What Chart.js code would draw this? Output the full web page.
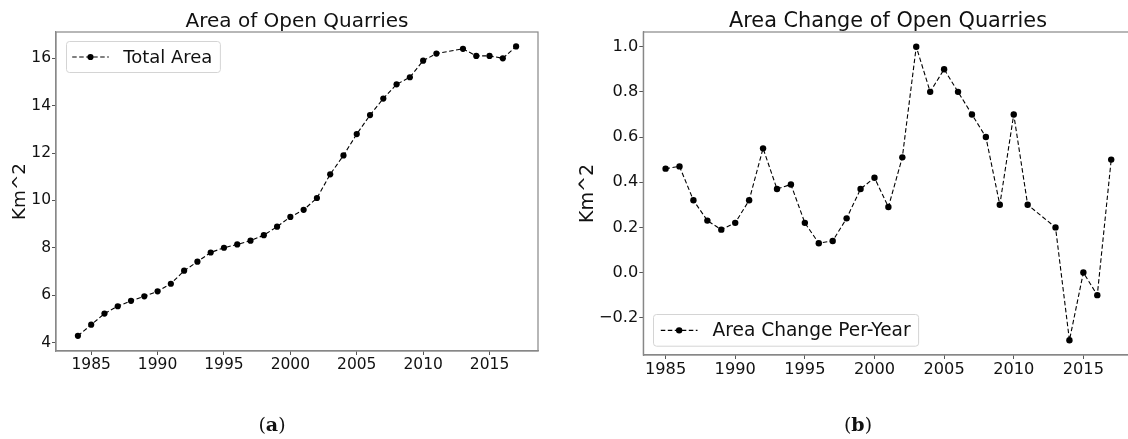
<!DOCTYPE html>
<html>
<head>
<meta charset="utf-8">
<script src="https://cdn.jsdelivr.net/npm/chart.js@4.4.1/dist/chart.umd.min.js"></script>
<style>
  html, body { margin: 0; padding: 0; background: #fff; }
  body { width: 1128px; height: 439px; position: relative; overflow: hidden; font-family: "DejaVu Sans", sans-serif; }
  .box { position: absolute; top: 0; height: 439px; }
  .title { position: absolute; color: #111; line-height: 1; white-space: nowrap; transform: translateX(-50%); }
  .sub { position: absolute; font-family: "DejaVu Serif", serif; font-size: 19px; line-height: 1; color: #111; transform: translateX(-50%); }
</style>
</head>
<body>
<div class="box" style="left:0;width:560px"><canvas id="totalChart"></canvas></div>
<div class="box" style="left:560px;width:600px"><canvas id="changeChart"></canvas></div>
<div class="title" style="left:297px;top:10px;font-size:20px">Area of Open Quarries</div>
<div class="title" style="left:888px;top:10px;font-size:20.8px">Area Change of Open Quarries</div>
<div class="sub" style="left:272px;top:415px">(<b>a</b>)</div>
<div class="sub" style="left:858px;top:415px">(<b>b</b>)</div>
<script>
// データ (a) 総面積
const yearsTotal = [1984, 1985, 1986, 1987, 1988, 1989, 1990, 1991, 1992, 1993, 1994, 1995, 1996, 1997,
    1998, 1999, 2000, 2001, 2002, 2003, 2004, 2005, 2006, 2007, 2008, 2009, 2010, 2011, 2013, 2014, 2015, 2016, 2017];
const totalArea = [4.28, 4.75, 5.22, 5.53, 5.76, 5.95, 6.16, 6.48, 7.03, 7.41, 7.8, 8.0, 8.14, 8.3,
    8.53, 8.89, 9.3, 9.6, 10.1, 11.1, 11.9, 12.8, 13.6, 14.3, 14.9, 15.2, 15.9, 16.2, 16.4, 16.1, 16.1, 16.0, 16.5];

// データ (b) 年間変化
const yearsChange = [1985, 1986, 1987, 1988, 1989, 1990, 1991, 1992, 1993, 1994, 1995, 1996, 1997, 1998,
    1999, 2000, 2001, 2002, 2003, 2004, 2005, 2006, 2007, 2008, 2009, 2010, 2011, 2013, 2014, 2015, 2016, 2017];
const areaChange = [0.46, 0.47, 0.32, 0.23, 0.19, 0.22, 0.32, 0.55, 0.37, 0.39, 0.22, 0.13, 0.14, 0.24,
    0.37, 0.42, 0.29, 0.51, 1.0, 0.8, 0.9, 0.8, 0.7, 0.6, 0.3, 0.7, 0.3, 0.2, -0.3, 0.0, -0.1, 0.5];

// 目盛り
const yearTicks = [1985, 1990, 1995, 2000, 2005, 2010, 2015];
const totalTicks = [4, 6, 8, 10, 12, 14, 16];
const changeTicks = [-0.2, 0.0, 0.2, 0.4, 0.6, 0.8, 1.0];

const FONT = '"DejaVu Sans", sans-serif';

// プロット枠 (matplotlib風)
const frameBox = {
    id: 'frameBox',
    beforeDatasetsDraw(chart) {
        const { ctx, chartArea: a } = chart;
        ctx.save();
        ctx.strokeStyle = '#888';
        ctx.lineWidth = 1.2;
        ctx.strokeRect(a.left, a.top, a.right - a.left, a.bottom - a.top);
        ctx.restore();
    }
};

// 凡例をプロット内に描く
const insideLegend = {
    id: 'insideLegend',
    afterDraw(chart, args, o) {
        const { ctx, chartArea } = chart;
        const ds = chart.data.datasets[0];
        ctx.save();
        ctx.font = `${o.fontSize}px ${FONT}`;
        const tw = ctx.measureText(ds.label).width;
        const w = o.padX + o.lineLen + o.gap + tw + o.padR;
        const h = o.height;
        const x = Math.round(chartArea.left + o.offsetX) + 0.5;
        const y = Math.round(o.corner === 'top' ? chartArea.top + o.offsetY : chartArea.bottom - o.offsetY - h) + 0.5;
        ctx.beginPath();
        ctx.roundRect(x, y, w, h, 3);
        ctx.fillStyle = 'rgba(255,255,255,0.8)';
        ctx.fill();
        ctx.strokeStyle = '#d4d4d4';
        ctx.lineWidth = 1;
        ctx.stroke();
        const cy = y + h / 2;
        ctx.setLineDash(ds.borderDash);
        ctx.strokeStyle = ds.borderColor;
        ctx.lineWidth = ds.borderWidth;
        ctx.beginPath();
        ctx.moveTo(x + o.padX, cy);
        ctx.lineTo(x + o.padX + o.lineLen, cy);
        ctx.stroke();
        ctx.setLineDash([]);
        ctx.beginPath();
        ctx.arc(x + o.padX + o.lineLen / 2, cy, ds.pointRadius, 0, Math.PI * 2);
        ctx.fillStyle = ds.pointBackgroundColor;
        ctx.fill();
        ctx.fillStyle = '#111';
        ctx.textBaseline = 'middle';
        ctx.fillText(ds.label, x + o.padX + o.lineLen + o.gap, cy + 1);
        ctx.restore();
    }
};

function makeChart(id, cfg) {
    const points = cfg.xs.map((x, i) => ({ x: x, y: cfg.ys[i] }));
    return new Chart(document.getElementById(id), {
        type: 'line',
        data: {
            datasets: [{
                label: cfg.label,
                data: points,
                borderColor: '#000',
                borderWidth: 1.1,
                borderDash: [4.5, 2.5],
                pointRadius: cfg.radius,
                pointBorderWidth: 0,
                pointBackgroundColor: '#000',
                tension: 0,
            }]
        },
        options: {
            responsive: true,
            maintainAspectRatio: false,
            animation: false,
            layout: { padding: cfg.padding },
            plugins: {
                legend: { display: false },
                tooltip: { enabled: false },
                insideLegend: cfg.legend,
            },
            scales: {
                x: {
                    type: 'linear',
                    min: cfg.xMin,
                    max: cfg.xMax,
                    afterBuildTicks: s => { s.ticks = yearTicks.map(v => ({ value: v })); },
                    afterFit: s => { s.height = 40; },
                    grid: { drawOnChartArea: false, tickLength: 4, tickColor: '#555' },
                    border: { color: '#888', width: 1.2 },
                    ticks: {
                        color: '#111', padding: 1, maxRotation: 0,
                        font: { family: FONT, size: cfg.tickSize },
                        callback: v => String(v),
                    },
                },
                y: {
                    min: cfg.yMin,
                    max: cfg.yMax,
                    afterBuildTicks: s => { s.ticks = cfg.yTicks.map(v => ({ value: v })); },
                    afterFit: s => { s.width = cfg.yWidth; },
                    grid: { drawOnChartArea: false, tickLength: 4, tickColor: '#555' },
                    border: { color: '#888', width: 1.2 },
                    ticks: {
                        color: '#111', padding: 1,
                        font: { family: FONT, size: cfg.tickSize },
                        callback: cfg.yFormat,
                    },
                    title: {
                        display: true,
                        text: 'Km^2',
                        color: '#111',
                        padding: { top: cfg.titlePad, bottom: 0 },
                        font: { family: FONT, size: cfg.labelSize, lineHeight: 1.2 },
                    },
                },
            },
        },
        plugins: [frameBox, insideLegend],
    });
}

makeChart('totalChart', {
    xs: yearsTotal, ys: totalArea, label: 'Total Area',
    xMin: 1982.35, xMax: 2018.65, yMin: 3.64, yMax: 17.11, yTicks: totalTicks,
    yFormat: v => String(v),
    padding: { left: 0, top: 32, right: 22, bottom: 48 },
    yWidth: 56, titlePad: 9, tickSize: 15.5, labelSize: 18.4, radius: 3.1,
    legend: { corner: 'top', offsetX: 10, offsetY: 9, height: 31, padX: 5.7, lineLen: 36.6, gap: 14.4, padR: 8, fontSize: 18 },
});

makeChart('changeChart', {
    xs: yearsChange, ys: areaChange, label: 'Area Change Per-Year',
    xMin: 1983.4, xMax: 2018.6, yMin: -0.365, yMax: 1.065, yTicks: changeTicks,
    yFormat: v => v.toFixed(1).replace('-', '\u2212'),
    padding: { left: 0, top: 32, right: 26.5, bottom: 44 },
    yWidth: 83.3, titlePad: 17, tickSize: 16.2, labelSize: 19, radius: 3.2,
    legend: { corner: 'bottom', offsetX: 9.4, offsetY: 9, height: 31.7, padX: 7.3, lineLen: 36.7, gap: 15, padR: 8, fontSize: 18.6 },
});
</script>
</body>
</html>
